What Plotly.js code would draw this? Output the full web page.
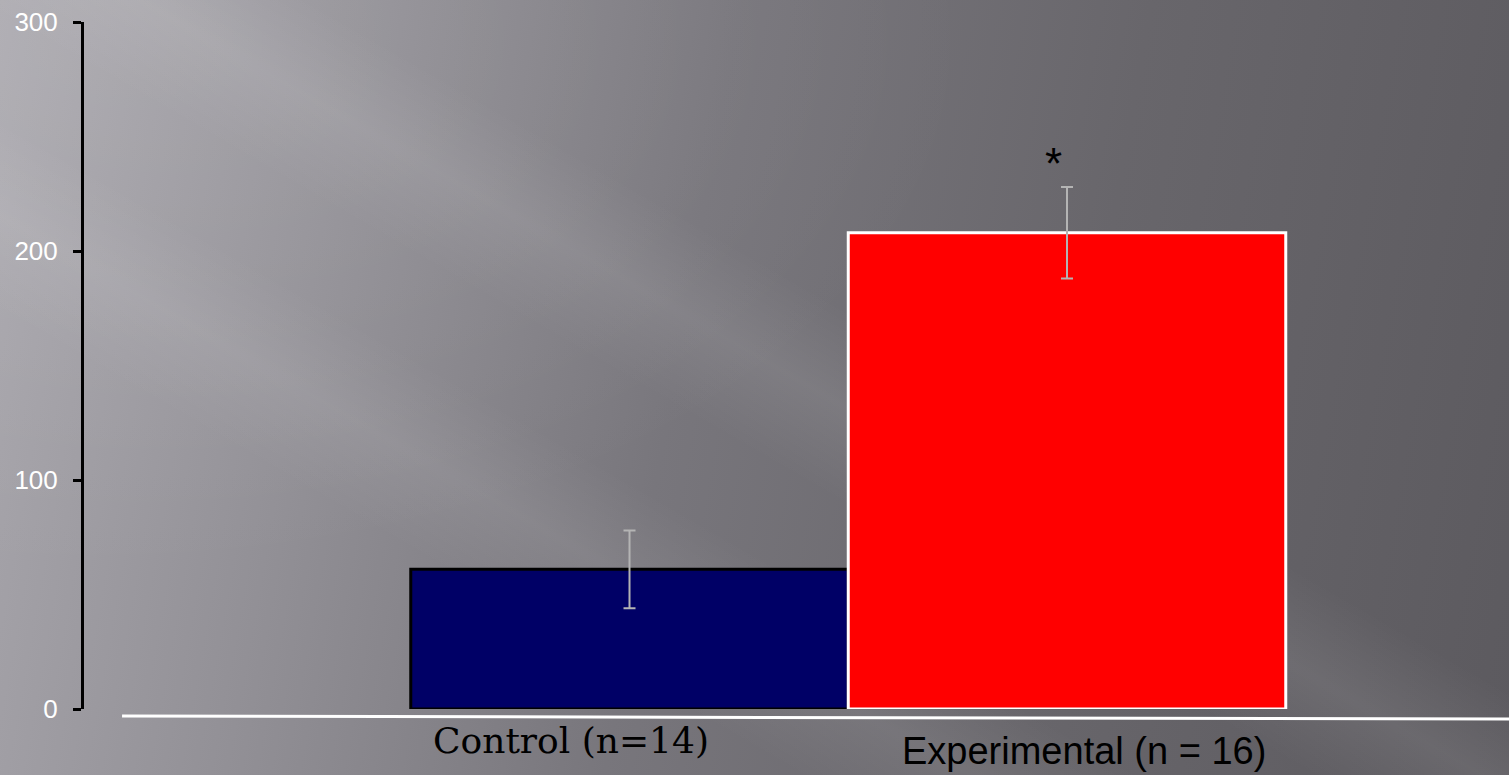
<!DOCTYPE html>
<html>
<head>
<meta charset="utf-8">
<script src="https://cdn.plot.ly/plotly-3.0.1.min.js"></script>
<style>
html,body{margin:0;padding:0;}
#bg{position:absolute;left:0;top:0;width:1509px;height:775px;
background:
 linear-gradient(30deg, rgba(255,255,255,0) 28%, rgba(255,255,255,0.07) 34%, rgba(255,255,255,0) 40%, rgba(255,255,255,0) 46%, rgba(255,255,255,0.08) 52%, rgba(255,255,255,0) 58%, rgba(255,255,255,0) 100%),
 radial-gradient(ellipse 60% 70% at 5% 5%, rgba(255,255,255,0.10), rgba(255,255,255,0) 100%),
 linear-gradient(100deg, #a9a7ad 0%, #929096 22%, #78767c 45%, #68666b 70%, #5c5a5f 100%);
}
#chart{position:absolute;left:0;top:0;width:1509px;height:775px;}
</style>
</head>
<body>
<div id="bg"></div>
<div id="chart"></div>
<script>
var categories = ["Control (n=14)", "Experimental (n = 16)"];
var values = [61, 208];
var errors = [17, 20];
var yTicks = [0, 100, 200, 300];

var trace = {
  type: 'bar',
  x: [0, 1],
  y: values,
  width: [1, 1],
  marker: {
    color: ['#000066', '#ff0000'],
    line: {color: ['#000000', '#ffffff'], width: [3, 3]}
  },
  error_y: {type: 'data', array: errors, visible: true, color: '#b4b4b4', thickness: 2, width: 6},
  hoverinfo: 'skip'
};

var layout = {
  width: 1509, height: 775,
  margin: {l: 84, r: 0, t: 22, b: 66, pad: 0},
  paper_bgcolor: 'rgba(0,0,0,0)',
  plot_bgcolor: 'rgba(0,0,0,0)',
  showlegend: false,
  bargap: 0,
  xaxis: {
    range: [-1.2469, 2.0103],
    showticklabels: false, showgrid: false, zeroline: false, showline: false, ticks: '',
    fixedrange: true
  },
  yaxis: {
    range: [0, 300],
    tickvals: yTicks,
    ticktext: yTicks.map(String),
    showgrid: false, zeroline: false,
    showline: true, linecolor: '#000000', linewidth: 3,
    ticks: 'outside', ticklen: 8, tickwidth: 3, tickcolor: '#000000',
    ticklabelstandoff: 10,
    tickfont: {family: 'Liberation Sans, Arial, sans-serif', size: 26, color: '#ffffff'},
    fixedrange: true
  },
  shapes: [
    {type: 'line', xref: 'paper', yref: 'paper', x0: 0.0267, x1: 1, y0: -0.0102, y1: -0.0146,
     line: {color: '#ffffff', width: 3}}
  ],
  annotations: [
    {x: 0, y: 0, xref: 'x', yref: 'paper', text: categories[0], showarrow: false,
     xshift: -59, yshift: -31, xanchor: 'center', yanchor: 'middle',
     font: {family: 'DejaVu Serif, Liberation Serif, serif', size: 36, color: '#000000'}},
    {x: 1, y: 0, xref: 'x', yref: 'paper', text: categories[1], showarrow: false,
     xshift: 17, yshift: -42, xanchor: 'center', yanchor: 'middle',
     font: {family: 'Liberation Sans Narrow, Liberation Sans, sans-serif', size: 38, color: '#000000'}},
    {x: 1, y: values[1] + errors[1], xref: 'x', yref: 'y', text: '*', showarrow: false,
     xshift: -14, yshift: -3, xanchor: 'center', yanchor: 'bottom',
     font: {family: 'Liberation Sans, Arial, sans-serif', size: 44, color: '#000000'}}
  ]
};

Plotly.newPlot('chart', [trace], layout, {displayModeBar: false, staticPlot: true});
</script>
</body>
</html>
